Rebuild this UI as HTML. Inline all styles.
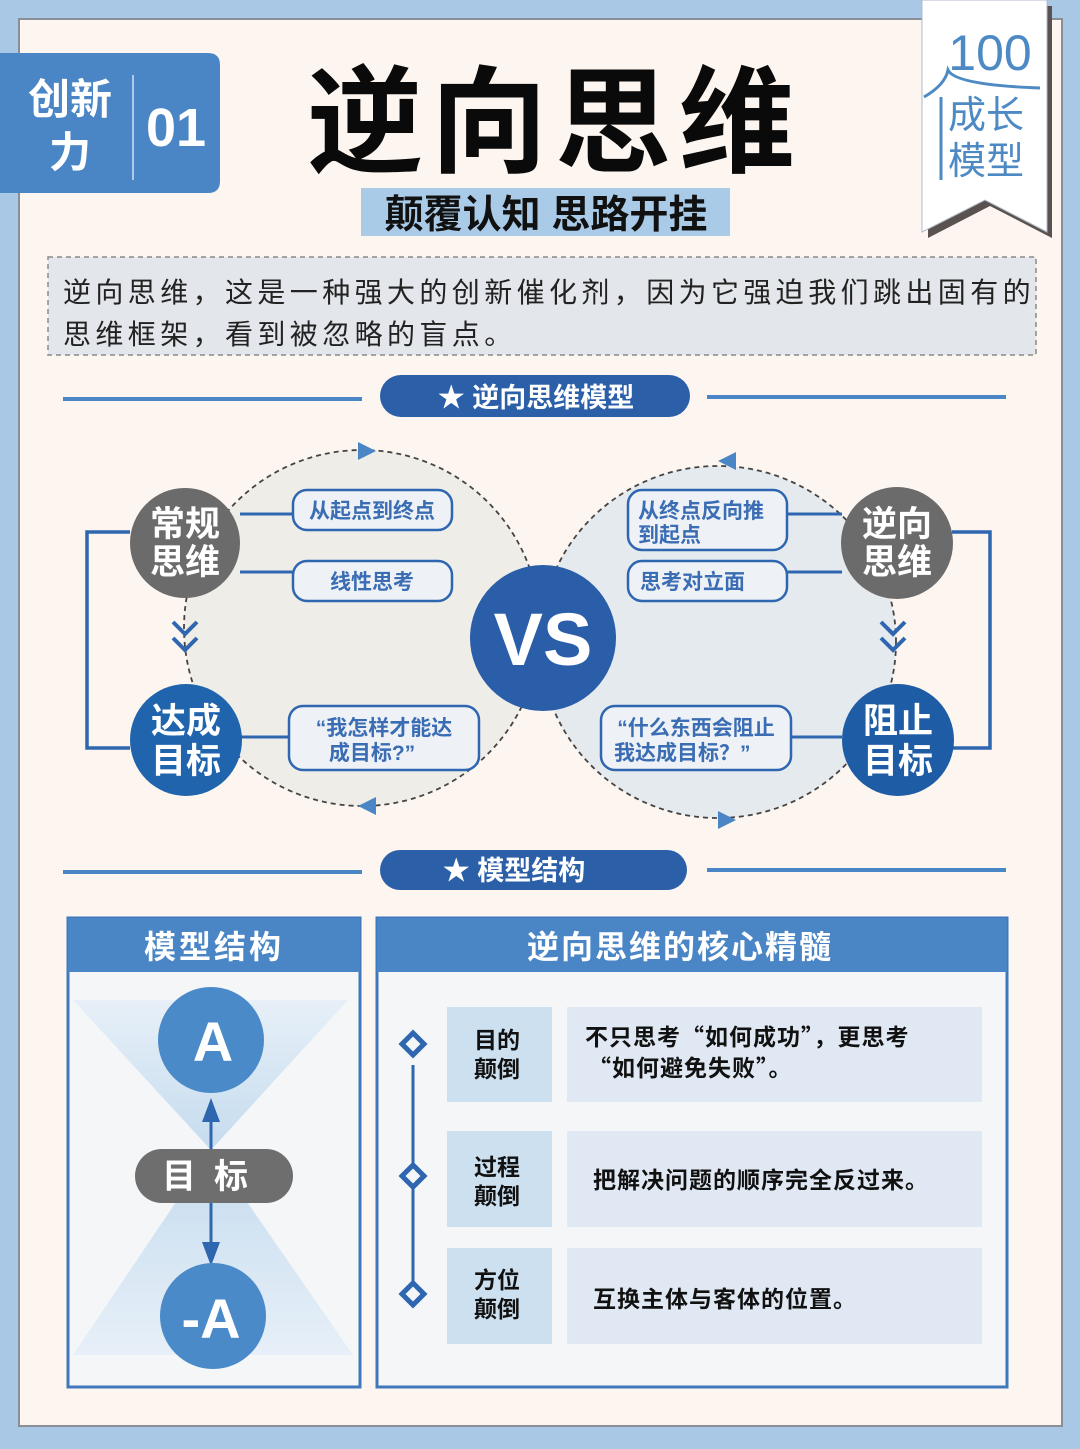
<!DOCTYPE html>
<html><head><meta charset="utf-8"><style>
html,body{margin:0;padding:0;}
body{width:1080px;height:1444px;overflow:hidden;background:#a9c8e6;}
svg text{font-family:"Liberation Sans","Noto Sans CJK SC",sans-serif;font-weight:bold;}
svg text.n{font-weight:normal;}
svg text.cjk{font-family:"Noto Sans CJK SC",sans-serif;}
</style></head><body>
<svg width="1080" height="1444" viewBox="0 0 1080 1444" xmlns="http://www.w3.org/2000/svg">
<defs>
<linearGradient id="tg" x1="0" y1="0" x2="0" y2="1"><stop offset="0" stop-color="#e4eef8"/><stop offset="1" stop-color="#b9d5ec"/></linearGradient>
<linearGradient id="bg" x1="0" y1="1" x2="0" y2="0"><stop offset="0" stop-color="#e4eef8"/><stop offset="1" stop-color="#b9d5ec"/></linearGradient>
</defs>
<rect x="0" y="0" width="1080" height="1444" fill="#a9c8e6"/>
<rect x="19" y="19" width="1043" height="1407" fill="#fdf6f0" stroke="#8a8f96" stroke-width="2"/>

<path d="M0 53 H208 Q220 53 220 65 V181 Q220 193 208 193 H0 Z" fill="#4a86c5"/>
<line x1="133" y1="75" x2="133" y2="180" stroke="#d0e0f0" stroke-width="1.5"/>
<text x="70" y="114" font-size="42" fill="#fff" text-anchor="middle">创新</text>
<text x="70" y="167" font-size="42" fill="#fff" text-anchor="middle">力</text>
<text x="176" y="146" font-size="54" fill="#fff" text-anchor="middle">01</text>

<text x="555" y="163" font-size="116" fill="#0a0a0a" text-anchor="middle" font-weight="900" letter-spacing="8">逆向思维</text>
<rect x="361" y="188" width="369" height="48" fill="#a9cbe8"/>
<text x="546" y="228" font-size="39" fill="#111" text-anchor="middle">颠覆认知 思路开挂</text>

<path d="M928 6 H1052 V238 L990 206 L928 238 Z" fill="#5a5250"/>
<path d="M922 0 H1047 V232 L985 200 L922 232 Z" fill="#fff" stroke="#b0b8c8" stroke-width="1"/>
<text class="n" x="990" y="70" font-size="50" fill="#4d8ac4" text-anchor="middle">100</text>
<path d="M924 97 Q945 85 948 70 Q955 85 1040 88" fill="none" stroke="#4d8ac4" stroke-width="3"/>
<line x1="941" y1="97" x2="941" y2="180" stroke="#4d8ac4" stroke-width="3"/>
<text class="n" x="986" y="128" font-size="38" fill="#4d8ac4" text-anchor="middle">成长</text>
<text class="n" x="986" y="174" font-size="38" fill="#4d8ac4" text-anchor="middle">模型</text>

<rect x="48" y="257" width="988" height="98" fill="#e3e6ea" stroke="#8a8a8a" stroke-width="1.5" stroke-dasharray="5,4"/>
<text class="n" x="63" y="302" font-size="28" fill="#222" letter-spacing="4.4">逆向思维，这是一种强大的创新催化剂，因为它强迫我们跳出固有的</text>
<text class="n" x="63" y="344" font-size="28" fill="#222" letter-spacing="4.4">思维框架，看到被忽略的盲点。</text>

<line x1="63" y1="399" x2="362" y2="399" stroke="#4a86c5" stroke-width="4"/>
<line x1="707" y1="397" x2="1006" y2="397" stroke="#4a86c5" stroke-width="4"/>
<rect x="380" y="375" width="310" height="42" rx="21" fill="#2b5fa8"/>
<text x="536" y="407" font-size="27" fill="#fff" text-anchor="middle">★ 逆向思维模型</text>

<ellipse cx="362" cy="628" rx="178" ry="178" fill="#efede8" stroke="#444" stroke-width="1.8" stroke-dasharray="5,4"/>
<ellipse cx="718" cy="642" rx="178" ry="176" fill="#e5eaef" stroke="#444" stroke-width="1.8" stroke-dasharray="5,4"/>
<polygon points="358,442 376,451 358,460" fill="#4a86c5"/>
<polygon points="376,797 358,806 376,815" fill="#4a86c5"/>
<polygon points="736,452 718,461 736,470" fill="#4a86c5"/>
<polygon points="718,811 736,820 718,829" fill="#4a86c5"/>

<path d="M130 532 H87 V748 H130" fill="none" stroke="#2f66b0" stroke-width="3.5"/>
<path d="M952 532 H990 V748 H952" fill="none" stroke="#2f66b0" stroke-width="3.5"/>

<g stroke="#2f66b0" stroke-width="3">
<line x1="240" y1="514" x2="293" y2="514"/><line x1="240" y1="572" x2="293" y2="572"/>
<line x1="240" y1="737" x2="289" y2="737"/>
<line x1="787" y1="514" x2="842" y2="514"/><line x1="787" y1="572" x2="842" y2="572"/>
<line x1="791" y1="737" x2="842" y2="737"/>
</g>

<g fill="none" stroke="#2f66b0" stroke-width="4">
<path d="M173 622 L185 634 L197 622"/><path d="M173 638 L185 650 L197 638"/>
<path d="M881 622 L893 634 L905 622"/><path d="M881 638 L893 650 L905 638"/>
</g>

<circle cx="185" cy="543" r="55" fill="#6b6b6b"/>
<text x="185" y="536" font-size="35" fill="#fff" text-anchor="middle">常规</text>
<text x="185" y="574" font-size="35" fill="#fff" text-anchor="middle">思维</text>
<circle cx="186" cy="740" r="56" fill="#1f64ad"/>
<text x="186" y="733" font-size="35" fill="#fff" text-anchor="middle">达成</text>
<text x="186" y="773" font-size="35" fill="#fff" text-anchor="middle">目标</text>
<circle cx="897" cy="543" r="56" fill="#6b6b6b"/>
<text x="897" y="536" font-size="35" fill="#fff" text-anchor="middle">逆向</text>
<text x="897" y="574" font-size="35" fill="#fff" text-anchor="middle">思维</text>
<circle cx="898" cy="740" r="56" fill="#1f5ca6"/>
<text x="898" y="733" font-size="35" fill="#fff" text-anchor="middle">阻止</text>
<text x="898" y="773" font-size="35" fill="#fff" text-anchor="middle">目标</text>

<circle cx="543" cy="638" r="73" fill="#2a5ea8"/>
<text x="543" y="665" font-size="74" fill="#fff" text-anchor="middle" font-weight="900">VS</text>

<g fill="#eef1f6" stroke="#2f66b0" stroke-width="2.5">
<rect x="293" y="490" width="159" height="40" rx="14"/>
<rect x="293" y="561" width="159" height="40" rx="14"/>
<rect x="289" y="706" width="190" height="64" rx="14"/>
<rect x="628" y="490" width="159" height="60" rx="14"/>
<rect x="628" y="561" width="159" height="40" rx="14"/>
<rect x="601" y="706" width="190" height="64" rx="14"/>
</g>
<g font-size="21" fill="#3a6db3">
<text x="372" y="518" text-anchor="middle">从起点到终点</text>
<text x="372" y="589" text-anchor="middle">线性思考</text>
<text x="384" y="735" text-anchor="middle">“我怎样才能达</text>
<text x="372" y="760" text-anchor="middle">成目标?”</text>
<text x="638" y="518">从终点反向推</text>
<text x="638" y="542">到起点</text>
<text x="640" y="589">思考对立面</text>
<text x="696" y="735" text-anchor="middle">“什么东西会阻止</text>
<text x="614" y="760">我达成目标？”</text>
</g>

<line x1="63" y1="872" x2="362" y2="872" stroke="#4a86c5" stroke-width="4"/>
<line x1="707" y1="870" x2="1006" y2="870" stroke="#4a86c5" stroke-width="4"/>
<rect x="380" y="850" width="307" height="40" rx="20" fill="#2b5fa8"/>
<text x="514" y="880" font-size="27" fill="#fff" text-anchor="middle">★ 模型结构</text>

<rect x="68" y="918" width="292" height="469" fill="#f4f6f8" stroke="#3f78bd" stroke-width="3"/>
<rect x="68" y="918" width="292" height="54" fill="#4a86c5"/>
<text x="214" y="958" font-size="32" fill="#fff" text-anchor="middle" letter-spacing="3">模型结构</text>
<polygon points="73,1000 348,1000 211,1150" fill="url(#tg)" opacity="0.8"/>
<polygon points="211,1150 353,1355 73,1355" fill="url(#bg)" opacity="0.8"/>
<circle cx="211" cy="1040" r="53" fill="#4a8ac9"/>
<text x="213" y="1061" font-size="56" fill="#fff" text-anchor="middle">A</text>
<line x1="211" y1="1105" x2="211" y2="1150" stroke="#2f66b0" stroke-width="3"/>
<polygon points="202,1122 211,1098 220,1122" fill="#2f66b0"/>
<line x1="211" y1="1200" x2="211" y2="1255" stroke="#2f66b0" stroke-width="3"/>
<polygon points="202,1242 211,1266 220,1242" fill="#2f66b0"/>
<circle cx="213" cy="1316" r="53" fill="#4a8ac9"/>
<text x="211" y="1338" font-size="56" fill="#fff" text-anchor="middle">-A</text>
<rect x="135" y="1149" width="158" height="54" rx="27" fill="#6e6e6e"/>
<text x="214" y="1188" font-size="34" fill="#fff" text-anchor="middle" letter-spacing="18">目标</text>

<rect x="377" y="918" width="630" height="469" fill="#f4f6f8" stroke="#3f78bd" stroke-width="3"/>
<rect x="377" y="918" width="630" height="54" fill="#4a86c5"/>
<text x="680" y="958" font-size="32" fill="#fff" text-anchor="middle" letter-spacing="2">逆向思维的核心精髓</text>
<line x1="413" y1="1065" x2="413" y2="1285" stroke="#2f66b0" stroke-width="3"/>
<g fill="#f4f6f8" stroke="#2f66b0" stroke-width="5">
<polygon points="413,1033 424,1044 413,1055 402,1044"/>
<polygon points="413,1165 424,1176 413,1187 402,1176"/>
<polygon points="413,1283 424,1294 413,1305 402,1294"/>
</g>
<g fill="#cce0f0">
<rect x="447" y="1007" width="105" height="95"/>
<rect x="447" y="1131" width="105" height="96"/>
<rect x="447" y="1248" width="105" height="96"/>
</g>
<g fill="#e0e9f3">
<rect x="567" y="1007" width="415" height="95"/>
<rect x="567" y="1131" width="415" height="96"/>
<rect x="567" y="1248" width="415" height="96"/>
</g>
<g font-size="23" fill="#111">
<text x="474" y="1048">目的</text><text x="474" y="1077">颠倒</text>
<text x="474" y="1175">过程</text><text x="474" y="1204">颠倒</text>
<text x="474" y="1288">方位</text><text x="474" y="1317">颠倒</text>
<text class="cjk" x="585" y="1045" letter-spacing="1">不只思考“如何成功”，更思考</text>
<text class="cjk" x="588" y="1076" letter-spacing="1">“如何避免失败”。</text>
<text class="cjk" x="593" y="1188" letter-spacing="1">把解决问题的顺序完全反过来。</text>
<text class="cjk" x="593" y="1307" letter-spacing="1">互换主体与客体的位置。</text>
</g>
</svg>
</body></html>
